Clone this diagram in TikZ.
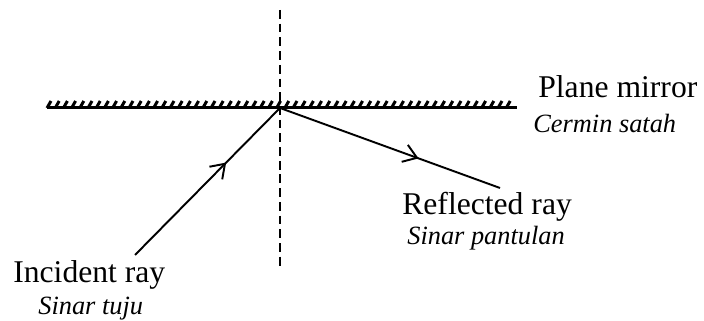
\documentclass[tikz,border=0pt]{standalone}
\usepackage{fontspec}
\setmainfont{Liberation Serif}
\usetikzlibrary{arrows.meta,positioning,decorations.markings}

\begin{document}
\begin{tikzpicture}[
  ray/.style={line width=1.1pt, postaction={decorate},
    decoration={markings, mark=at position 0.63 with
      {\arrow{Straight Barb[length=2.6mm, width=3.6mm, line width=1.1pt]}}}},
  mirrorline/.style={line width=1.7pt},
  hatch/.style={line width=1.7pt},
  normalline/.style={line width=1.1pt, dash pattern=on 5pt off 2.8pt},
  lbl/.style={inner sep=0pt, anchor=base west, font=\fontsize{18}{21}\selectfont},
  sublbl/.style={inner sep=0pt, font=\fontsize{15}{18}\selectfont\itshape}
]
\useasboundingbox (0,0) rectangle (14.08,6.42);

\coordinate (hit) at (5.60,4.26);
\coordinate (mirrorL) at (0.94,4.26);
\coordinate (mirrorR) at (10.34,4.26);
\coordinate (normtop) at (5.60,6.22);
\coordinate (normbot) at (5.60,1.02);
\coordinate (incstart) at (2.70,1.32);
\coordinate (refend) at (10.00,2.66);

% mirror with hatching
\draw[mirrorline] (mirrorL) -- (mirrorR);
\foreach \x in {0.94,1.104,...,10.26}
  \draw[hatch] (\x,4.26) -- ++(0.08,0.14);

% normal
\draw[normalline] (normtop) -- (normbot);

% rays
\draw[ray] (incstart) -- (hit);
\draw[ray] (hit) -- (refend);

% labels
\node[lbl] (plane) at (10.76,4.46) {Plane mirror};
\node[sublbl, below left=0.70cm and 0.1cm of plane.base west, anchor=base west] (cermin) {Cermin satah};
\node[lbl] (reflected) at (8.04,2.12) {Reflected ray};
\node[sublbl, below right=0.60cm and 0.1cm of reflected.base west, anchor=base west] (pantulan) {Sinar pantulan};
\node[lbl] (incident) at (0.26,0.76) {Incident ray};
\node[sublbl, below right=0.64cm and 0.5cm of incident.base west, anchor=base west] (tuju) {Sinar tuju};
\end{tikzpicture}
\end{document}
